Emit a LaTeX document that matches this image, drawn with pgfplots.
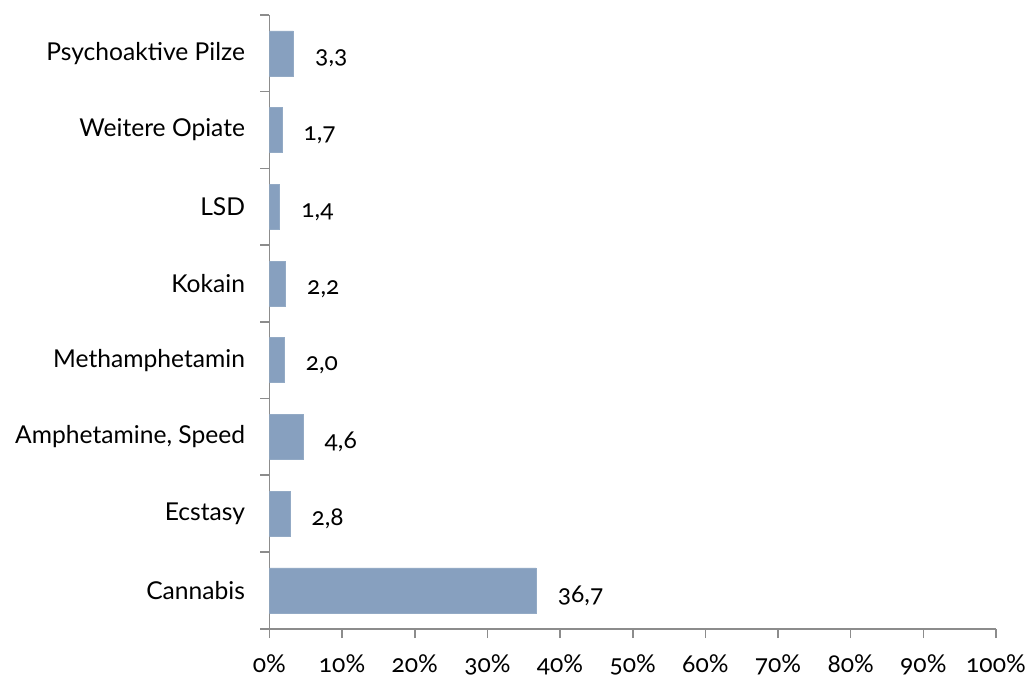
\documentclass[border=0pt]{standalone}
\usepackage{fontspec}
\setmainfont{Lato}[Numbers=OldStyle]
\usepackage{pgfplots}
\pgfplotsset{compat=1.18}
\definecolor{barblue}{HTML}{87A0BF}
\definecolor{axisgray}{HTML}{8C8C8C}
\begin{document}
\fontsize{18.5}{22}\selectfont
\begin{tikzpicture}
\path (-202.5pt,-36.75pt) rectangle (573pt,472.5pt);
\begin{axis}[
    xbar,
    scale only axis,
    width=546pt, height=461.25pt,
    xmin=0, xmax=100,
    ymin=-0.5, ymax=7.5,
    axis lines*=left,
    axis line style={axisgray, line width=1.2pt},
    xtick={0,10,...,100},
    xticklabel={\pgfmathprintnumber{\tick}\%},
    x tick label style={yshift=-6pt},
    xtick style={axisgray, line width=1.2pt},
    major tick length=7pt,
    tick align=outside,
    ytick={-0.5,0.5,...,7.5},
    yticklabels={},
    ytick style={axisgray, line width=1.2pt},
    extra y ticks={0,1,2,3,4,5,6,7},
    extra y tick labels={Cannabis,Ecstasy,{Amphetamine, Speed},Methamphetamin,Kokain,LSD,Weitere Opiate,Psychoaktive Pilze},
    extra y tick style={major tick length=0pt, tick label style={xshift=-12pt}},
    /pgf/number format/assume math mode=true,
    tick label style={font=\fontsize{18.5}{22}\selectfont},
    bar width=33.75pt,
    bar shift=0pt,
    nodes near coords,
    nodes near coords style={font=\fontsize{18.5}{22}\selectfont, anchor=west, xshift=10pt, yshift=-4pt,
        /pgf/number format/.cd, fixed, fixed zerofill, precision=1, use comma, assume math mode=true},
]
\addplot[fill=barblue, draw=barblue!90!white] coordinates {
    (36.7,0) (2.8,1) (4.6,2) (2.0,3) (2.2,4) (1.4,5) (1.7,6) (3.3,7)
};
\end{axis}
\end{tikzpicture}
\end{document}
